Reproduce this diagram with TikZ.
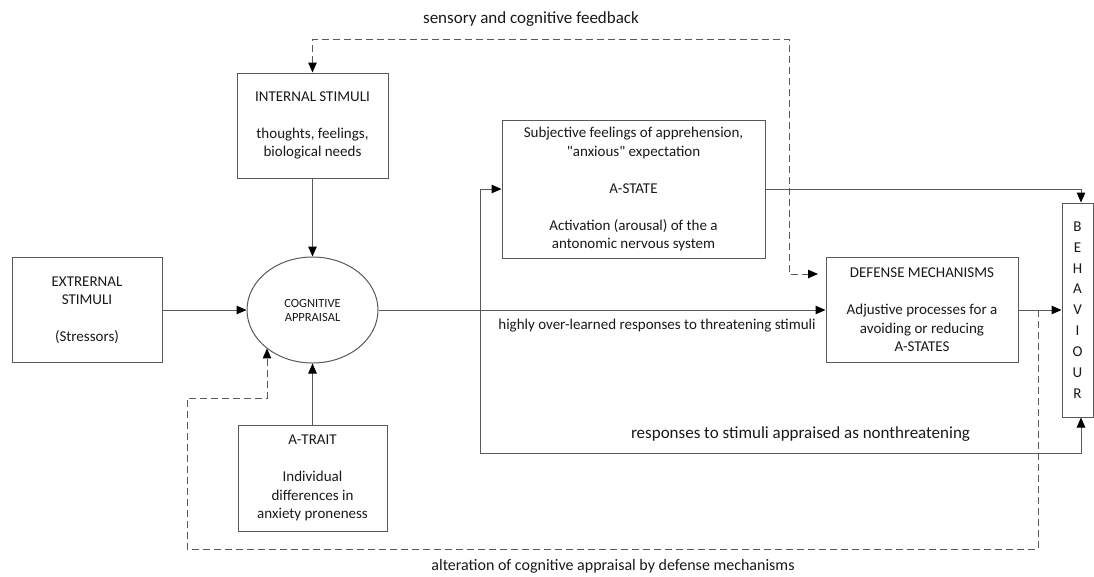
\documentclass[tikz,border=0pt]{standalone}
\usepackage{fontspec}
\setmainfont{Carlito}
\usetikzlibrary{arrows.meta,shapes.geometric}
\tikzstyle{block} = [rectangle, draw=black!65, line width=1pt, text=black!90, align=center, inner sep=0pt, font=\fontsize{15}{18.5}\selectfont]
\tikzstyle{link} = [draw=black!65, line width=1pt, ->]
\tikzstyle{feedback} = [link, dash pattern=on 7pt off 4pt]
\tikzstyle{caption} = [text=black!90, inner sep=0pt, font=\fontsize{17}{20}\selectfont]
\newcommand{\gap}{\\[18.5pt]}

\begin{document}
\begin{tikzpicture}[x=1pt, y=-1pt, >={Triangle[length=10pt,width=8.5pt,color=black]}]%
	\useasboundingbox (0,0) rectangle (1094,576);%
	% boxes
	\node [block, minimum width=150pt, minimum height=105pt] (ext) at (87,310) {EXTRERNAL\\STIMULI\gap(Stressors)};%
	\node [block, ellipse, minimum width=131pt, minimum height=106pt, font=\fontsize{12.5}{14}\selectfont] (app) at (312.5,310) {COGNITIVE\\APPRAISAL};%
	\node [block, minimum width=151pt, minimum height=105pt] (int) at (312.5,125.5) {INTERNAL STIMULI\gap thoughts, feelings,\\biological needs};%
	\node [block, minimum width=149pt, minimum height=106pt] (trait) at (312.5,478) {A-TRAIT\gap Individual\\differences in\\anxiety proneness};%
	\node [block, minimum width=263pt, minimum height=138pt] (state) at (633.5,189) {Subjective feelings of apprehension,\\\textquotedbl anxious\textquotedbl{} expectation\gap A-STATE\gap Activation (arousal) of the a\\antonomic nervous system};%
	\node [block, minimum width=192pt, minimum height=105pt] (def) at (922,310) {DEFENSE MECHANISMS\gap Adjustive processes for a\\avoiding or reducing\\A-STATES};%
	\node [block, minimum width=31pt, minimum height=214pt, font=\fontsize{15}{20.9}\selectfont] (beh) at (1077.5,310) {B\\E\\H\\A\\V\\I\\O\\U\\R};%
	% free ends
	\coordinate (split) at (480,310);%
	\coordinate (low) at (480,453);%
	\coordinate (fbtop) at (789,39);%
	\coordinate (fbend) at (818,274);%
	\coordinate (altstart) at (1038,310);%
	\coordinate (altlow) at (187,549);%
	\coordinate (altmid) at (267,398);%
	% solid arrows
	\draw [link] (ext.east) -- (app.west);%
	\draw [link] (int.south) -- (app.north);%
	\draw [link] (trait.north) -- (app.south);%
	\draw [link] (app.east) -- (def.west);%
	\draw [link] (split) |- (state.west);%
	\draw [link] (split) -- (low) -| ([xshift=3.5pt]beh.south);%
	\draw [link] (state.east) -| ([xshift=3.5pt]beh.north);%
	\draw [link] (def.east) -- (def.east -| beh.west);%
	% dashed feedback
	\draw [feedback, <->] (int.north) |- (fbtop) |- (fbend);%
	\draw [feedback] (altstart) |- (altlow) |- (altmid) -- (altmid |- app.220);%
	% labels
	\node [caption] (sens) at (531,19) {sensory and cognitive feedback};%
	\node [caption, font=\fontsize{15}{18}\selectfont] (threat) at (657,326) {highly over-learned responses to threatening stimuli};%
	\node [caption] (nonthreat) at (800.5,434) {responses to stimuli appraised as nonthreatening};%
	\node [caption, font=\fontsize{16}{18}\selectfont] (alter) at (613,566) {alteration of cognitive appraisal by defense mechanisms};%
\end{tikzpicture}
\end{document}
